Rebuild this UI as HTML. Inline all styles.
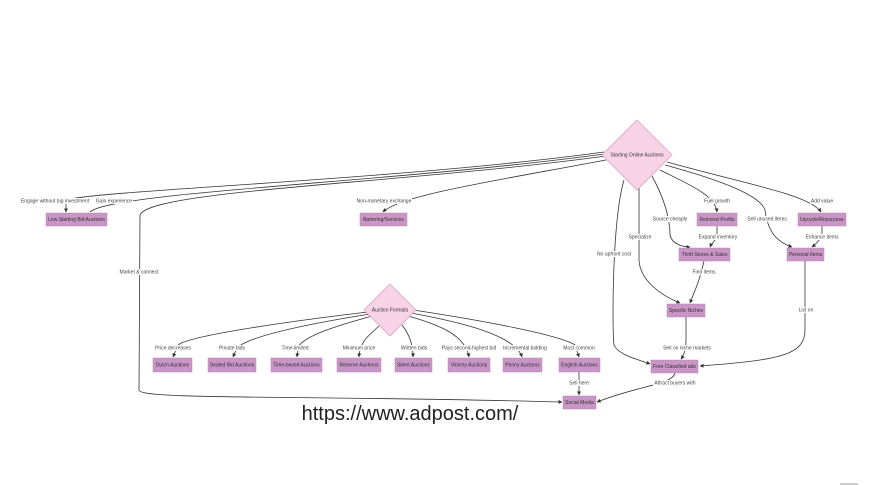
<!DOCTYPE html>
<html><head><meta charset="utf-8"><style>
html,body{margin:0;padding:0;background:#fff;}
svg{display:block;}
text{font-family:"Liberation Sans",sans-serif;}
.n{fill:#c994c6;stroke:#b987b6;stroke-width:0.5}
.t{font-size:5px;fill:#333;text-anchor:middle;dominant-baseline:middle}
.l{font-size:5px;fill:#444;text-anchor:middle;dominant-baseline:middle}
.lb{fill:#fff}
path.e{fill:none;stroke:#333;stroke-width:0.8}
</style></head><body>
<svg width="885" height="485" viewBox="0 0 885 485" xmlns="http://www.w3.org/2000/svg">
<defs><marker id="a" viewBox="0 0 10 10" refX="9" refY="5" markerWidth="5" markerHeight="5" orient="auto"><path d="M0,0L10,5L0,10z" fill="#333"/></marker></defs>

<!-- edges from Start -->
<path class="e" d="M604,152 C400,180 100,190 66,200 L66,212" marker-end="url(#a)"/>
<path class="e" d="M604,154 C400,182 110,192 90,212"/>
<path class="e" d="M606,156 C400,184 150,190 140,215 L139,390 C139,400 300,395 562,402" marker-end="url(#a)"/>
<path class="e" d="M606,160 C500,180 400,195 383,212" marker-end="url(#a)"/>
<path class="e" d="M624,180 C612,220 612,330 614,345 C618,355 640,360 650,364" marker-end="url(#a)"/>
<path class="e" d="M639,188 L639,260 C640,280 660,295 680,303" marker-end="url(#a)"/>
<path class="e" d="M652,176 C665,200 670,220 670,235 C672,245 685,247 690,247" marker-end="url(#a)"/>
<path class="e" d="M660,170 C690,185 715,195 717,212" marker-end="url(#a)"/>
<path class="e" d="M665,165 C720,180 760,195 765,210 C768,235 780,243 792,247" marker-end="url(#a)"/>
<path class="e" d="M667,162 C750,185 810,195 821,212" marker-end="url(#a)"/>
<path class="e" d="M717,226 L717,235 C717,240 712,242 710,247" marker-end="url(#a)"/>
<path class="e" d="M822,226 L822,235 C820,240 816,244 812,247" marker-end="url(#a)"/>
<path class="e" d="M704,261 C700,280 695,290 690,303" marker-end="url(#a)"/>
<path class="e" d="M805,261 L805,330 C805,355 780,360 700,366" marker-end="url(#a)"/>
<path class="e" d="M686,317 L686,340 C686,350 684,355 681,359" marker-end="url(#a)"/>
<path class="e" d="M675,373 C672,385 640,385 597,402" marker-end="url(#a)"/>
<path class="e" d="M579,372 L579,395" marker-end="url(#a)"/>

<!-- edges from Auction Formats -->
<path class="e" d="M368,312 C300,320 190,335 178,345 L173,357" marker-end="url(#a)"/>
<path class="e" d="M370,314 C320,322 250,335 237,348 L233,357" marker-end="url(#a)"/>
<path class="e" d="M372,316 C340,325 305,335 298,347 L297,357" marker-end="url(#a)"/>
<path class="e" d="M380,325 C370,335 360,340 359,357" marker-end="url(#a)"/>
<path class="e" d="M402,325 C410,335 413,345 413,357" marker-end="url(#a)"/>
<path class="e" d="M408,316 C440,325 465,335 469,357" marker-end="url(#a)"/>
<path class="e" d="M411,313 C460,322 515,335 522,357" marker-end="url(#a)"/>
<path class="e" d="M413,310 C480,320 560,335 575,345 L579,357" marker-end="url(#a)"/>

<!-- diamonds -->
<polygon points="637,120 672,155 637,190 602,155" fill="#f8d3e6" stroke="#d9a3cc" stroke-width="0.8"/>
<text class="t" x="637" y="155">Starting Online Auctions</text>
<polygon points="390,284 416,310 390,336 364,310" fill="#f8d3e6" stroke="#d9a3cc" stroke-width="0.8"/>
<text class="t" x="390" y="310">Auction Formats</text>

<!-- nodes -->
<rect class="n" x="46" y="213" width="61" height="13"/><text class="t" x="76.5" y="219.5">Low Starting Bid Auctions</text>
<rect class="n" x="360" y="213" width="47" height="13"/><text class="t" x="383.5" y="219.5">Bartering/Services</text>
<rect class="n" x="697" y="213" width="40" height="13"/><text class="t" x="717" y="219.5">Reinvest Profits</text>
<rect class="n" x="798" y="213" width="48" height="13"/><text class="t" x="822" y="219.5">Upcycle/Repurpose</text>
<rect class="n" x="679" y="248" width="51" height="13"/><text class="t" x="704.5" y="254.5">Thrift Stores &amp; Sales</text>
<rect class="n" x="787" y="248" width="37" height="13"/><text class="t" x="805.5" y="254.5">Personal Items</text>
<rect class="n" x="667" y="304" width="38" height="13"/><text class="t" x="686" y="310.5">Specific Niches</text>
<rect class="n" x="651" y="360" width="47" height="13"/><text class="t" x="674.5" y="366.5">Free Classified ads</text>
<rect class="n" x="563" y="396" width="33" height="13"/><text class="t" x="579.5" y="402.5">Social Media</text>

<rect class="n" x="153" y="358" width="39" height="14"/><text class="t" x="172.5" y="365">Dutch Auctions</text>
<rect class="n" x="208" y="358" width="48" height="14"/><text class="t" x="232" y="365">Sealed Bid Auctions</text>
<rect class="n" x="271" y="358" width="51" height="14"/><text class="t" x="296.5" y="365">Time-based Auctions</text>
<rect class="n" x="337" y="358" width="44" height="14"/><text class="t" x="359" y="365">Reserve Auctions</text>
<rect class="n" x="395" y="358" width="37" height="14"/><text class="t" x="413.5" y="365">Silent Auctions</text>
<rect class="n" x="448" y="358" width="42" height="14"/><text class="t" x="469" y="365">Vickrey Auctions</text>
<rect class="n" x="503" y="358" width="39" height="14"/><text class="t" x="522.5" y="365">Penny Auctions</text>
<rect class="n" x="559" y="358" width="41" height="14"/><text class="t" x="579.5" y="365">English Auctions</text>

<!-- edge labels -->
<g>
<rect class="lb" x="19" y="198" width="72" height="6"/><text class="l" x="55" y="201">Engage without big investment</text>
<rect class="lb" x="95" y="198" width="38" height="6"/><text class="l" x="114" y="201">Gain experience</text>
<rect class="lb" x="119" y="269" width="40" height="6"/><text class="l" x="139" y="272">Market &amp; connect</text>
<rect class="lb" x="356" y="198" width="56" height="6"/><text class="l" x="384" y="201">Non-monetary exchange</text>
<rect class="lb" x="596" y="251" width="36" height="6"/><text class="l" x="614" y="254">No upfront cost</text>
<rect class="lb" x="628" y="234" width="24" height="6"/><text class="l" x="640" y="237">Specialize</text>
<rect class="lb" x="652" y="216" width="36" height="6"/><text class="l" x="670" y="219">Source cheaply</text>
<rect class="lb" x="703" y="198" width="28" height="6"/><text class="l" x="717" y="201">Fuel growth</text>
<rect class="lb" x="747" y="216" width="40" height="6"/><text class="l" x="767" y="219">Sell unused items</text>
<rect class="lb" x="810" y="198" width="24" height="6"/><text class="l" x="822" y="201">Add value</text>
<rect class="lb" x="697" y="234" width="42" height="6"/><text class="l" x="718" y="237">Expand inventory</text>
<rect class="lb" x="804" y="234" width="36" height="6"/><text class="l" x="822" y="237">Enhance items</text>
<rect class="lb" x="692" y="269" width="24" height="6"/><text class="l" x="704" y="272">Find items</text>
<rect class="lb" x="797" y="307" width="18" height="6"/><text class="l" x="806" y="310">List on</text>
<rect class="lb" x="662" y="345" width="50" height="6"/><text class="l" x="687" y="348">Sell on niche markets</text>
<rect class="lb" x="653" y="380" width="44" height="6"/><text class="l" x="675" y="383">Attract buyers with</text>
<rect class="lb" x="569" y="380" width="20" height="6"/><text class="l" x="579" y="383">Sell here</text>
<rect class="lb" x="155" y="345" width="36" height="6"/><text class="l" x="173" y="348">Price decreases</text>
<rect class="lb" x="218" y="345" width="28" height="6"/><text class="l" x="232" y="348">Private bids</text>
<rect class="lb" x="281" y="345" width="28" height="6"/><text class="l" x="295" y="348">Time-limited</text>
<rect class="lb" x="341" y="345" width="36" height="6"/><text class="l" x="359" y="348">Minimum price</text>
<rect class="lb" x="400" y="345" width="28" height="6"/><text class="l" x="414" y="348">Written bids</text>
<rect class="lb" x="441" y="345" width="56" height="6"/><text class="l" x="469" y="348">Pays second-highest bid</text>
<rect class="lb" x="502" y="345" width="46" height="6"/><text class="l" x="525" y="348">Incremental bidding</text>
<rect class="lb" x="563" y="345" width="32" height="6"/><text class="l" x="579" y="348">Most common</text>
</g>

<text x="410" y="420" font-size="20" fill="#222" text-anchor="middle" style="font-family:'Liberation Sans',sans-serif">https://www.adpost.com/</text>
<rect x="840" y="483" width="18" height="2" fill="#ccc"/>
</svg>
</body></html>
